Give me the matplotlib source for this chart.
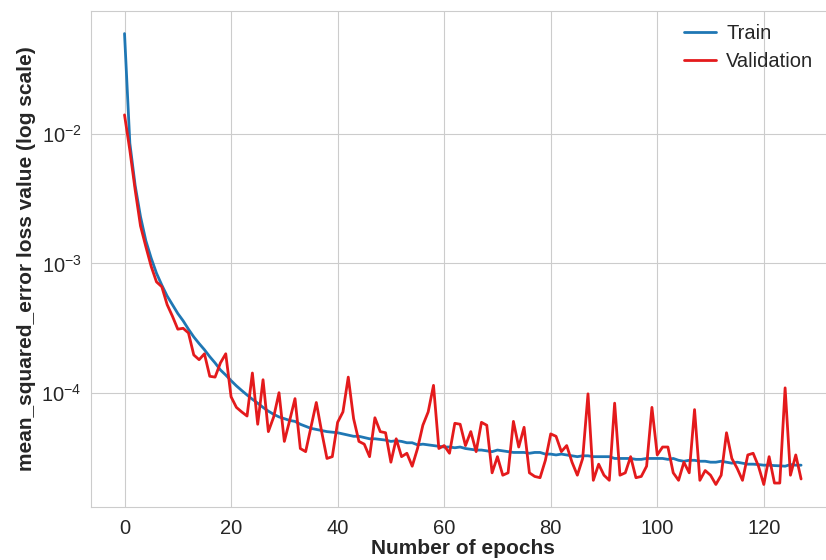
import matplotlib

matplotlib.use("Agg")
import matplotlib.pyplot as plt
import seaborn as sns

sns.set_style("whitegrid")
plt.rcParams["font.family"] = ["Liberation Sans", "DejaVu Sans"]

# loss values, one per epoch (0..127)
train_loss = [
    6.0e-2, 8.5e-3, 4.0e-3, 2.3e-3, 1.5e-3, 1.1e-3, 8.4e-4, 6.8e-4, 5.6e-4, 4.8e-4,
    4.1e-4, 3.6e-4, 3.1e-4, 2.7e-4, 2.4e-4, 2.15e-4, 1.9e-4, 1.7e-4, 1.5e-4, 1.37e-4,
    1.24e-4, 1.13e-4, 1.04e-4, 9.6e-5, 8.9e-5, 8.3e-5, 7.7e-5, 7.2e-5, 6.8e-5, 6.5e-5,
    6.3e-5, 6.1e-5, 6.0e-5, 5.7e-5, 5.5e-5, 5.3e-5, 5.2e-5, 5.1e-5, 5.0e-5, 4.95e-5,
    4.9e-5, 4.8e-5, 4.7e-5, 4.6e-5, 4.6e-5, 4.5e-5, 4.4e-5, 4.4e-5, 4.35e-5, 4.3e-5,
    4.2e-5, 4.25e-5, 4.2e-5, 4.1e-5, 4.1e-5, 3.95e-5, 4.0e-5, 3.95e-5, 3.9e-5, 3.85e-5,
    3.8e-5, 3.8e-5, 3.75e-5, 3.8e-5, 3.7e-5, 3.65e-5, 3.6e-5, 3.6e-5, 3.55e-5, 3.5e-5,
    3.6e-5, 3.55e-5, 3.5e-5, 3.45e-5, 3.45e-5, 3.45e-5, 3.4e-5, 3.45e-5, 3.45e-5, 3.35e-5,
    3.35e-5, 3.3e-5, 3.35e-5, 3.3e-5, 3.25e-5, 3.2e-5, 3.25e-5, 3.25e-5, 3.2e-5, 3.2e-5,
    3.2e-5, 3.2e-5, 3.1e-5, 3.1e-5, 3.1e-5, 3.1e-5, 3.05e-5, 3.05e-5, 3.1e-5, 3.1e-5,
    3.1e-5, 3.1e-5, 3.05e-5, 3.1e-5, 3.0e-5, 2.95e-5, 3.0e-5, 3.0e-5, 2.95e-5, 2.95e-5,
    2.9e-5, 2.9e-5, 2.95e-5, 2.9e-5, 2.85e-5, 2.9e-5, 2.85e-5, 2.8e-5, 2.8e-5, 2.78e-5,
    2.75e-5, 2.75e-5, 2.73e-5, 2.72e-5, 2.7e-5, 2.78e-5, 2.75e-5, 2.75e-5,
]

val_loss = [
    1.41e-2, 7.5e-3, 3.7e-3, 1.95e-3, 1.35e-3, 9.5e-4, 7.2e-4, 6.6e-4, 4.8e-4, 3.9e-4,
    3.1e-4, 3.15e-4, 2.9e-4, 1.96e-4, 1.8e-4, 2.0e-4, 1.34e-4, 1.32e-4, 1.7e-4, 2.0e-4,
    9.3e-5, 7.7e-5, 7.1e-5, 6.6e-5, 1.42e-4, 5.7e-5, 1.26e-4, 5.0e-5, 6.5e-5, 1.0e-4,
    4.2e-5, 6.1e-5, 9.0e-5, 3.7e-5, 3.5e-5, 5.4e-5, 8.4e-5, 5.0e-5, 3.1e-5, 3.2e-5,
    5.9e-5, 7.1e-5, 1.32e-4, 6.3e-5, 4.2e-5, 4.0e-5, 3.2e-5, 6.4e-5, 5.0e-5, 4.9e-5,
    2.9e-5, 4.4e-5, 3.2e-5, 3.4e-5, 2.7e-5, 3.7e-5, 5.6e-5, 7.1e-5, 1.14e-4, 3.7e-5,
    3.9e-5, 3.4e-5, 5.8e-5, 5.7e-5, 3.9e-5, 5.0e-5, 3.5e-5, 5.9e-5, 5.6e-5, 2.4e-5,
    3.2e-5, 2.3e-5, 2.4e-5, 6.0e-5, 3.8e-5, 5.4e-5, 2.4e-5, 2.25e-5, 2.2e-5, 3.0e-5,
    4.8e-5, 4.6e-5, 3.5e-5, 3.9e-5, 2.9e-5, 2.3e-5, 3.1e-5, 9.8e-5, 2.1e-5, 2.8e-5,
    2.3e-5, 2.1e-5, 8.3e-5, 2.3e-5, 2.4e-5, 3.2e-5, 2.2e-5, 2.25e-5, 2.7e-5, 7.7e-5,
    3.3e-5, 3.8e-5, 3.8e-5, 2.4e-5, 2.1e-5, 2.9e-5, 2.4e-5, 7.4e-5, 2.1e-5, 2.5e-5,
    2.3e-5, 1.95e-5, 2.3e-5, 4.9e-5, 3.1e-5, 2.6e-5, 2.1e-5, 3.3e-5, 3.4e-5, 2.7e-5,
    1.95e-5, 3.2e-5, 2.0e-5, 2.0e-5, 1.09e-4, 2.3e-5, 3.3e-5, 2.15e-5,
]

epochs = list(range(len(train_loss)))

fig = plt.figure(figsize=(8.26, 5.6), dpi=100)
# the reference is cropped on the right, so the axes run past the figure edge
ax = fig.add_axes([0.1098, 0.0946, 0.901, 0.8857])

ax.plot(epochs, train_loss, color="#1f77b4", linewidth=2.0, label="Train")
ax.plot(epochs, val_loss, color="#e41a1c", linewidth=2.0, label="Validation")
ax.set_yscale("log")

ax.set_xlabel("Number of epochs", fontsize=15, fontweight="bold", labelpad=1)
ax.set_ylabel("mean_squared_error loss value (log scale)", fontsize=15,
              fontweight="bold", labelpad=4)
ax.tick_params(axis="both", labelsize=14.5, colors="#262626")
ax.tick_params(axis="y", pad=3)
ax.tick_params(axis="x", pad=5)
for side in ["left", "bottom"]:
    ax.spines[side].set_color("#cccccc")

ax.legend(loc="upper left", bbox_to_anchor=(0.811, 0.983),
          bbox_transform=fig.transFigure, frameon=False, fontsize=14.5,
          handlelength=1.6, handletextpad=0.5, labelspacing=0.45, borderpad=0.2)

fig.savefig("out.png", dpi=100)
plt.close(fig)
